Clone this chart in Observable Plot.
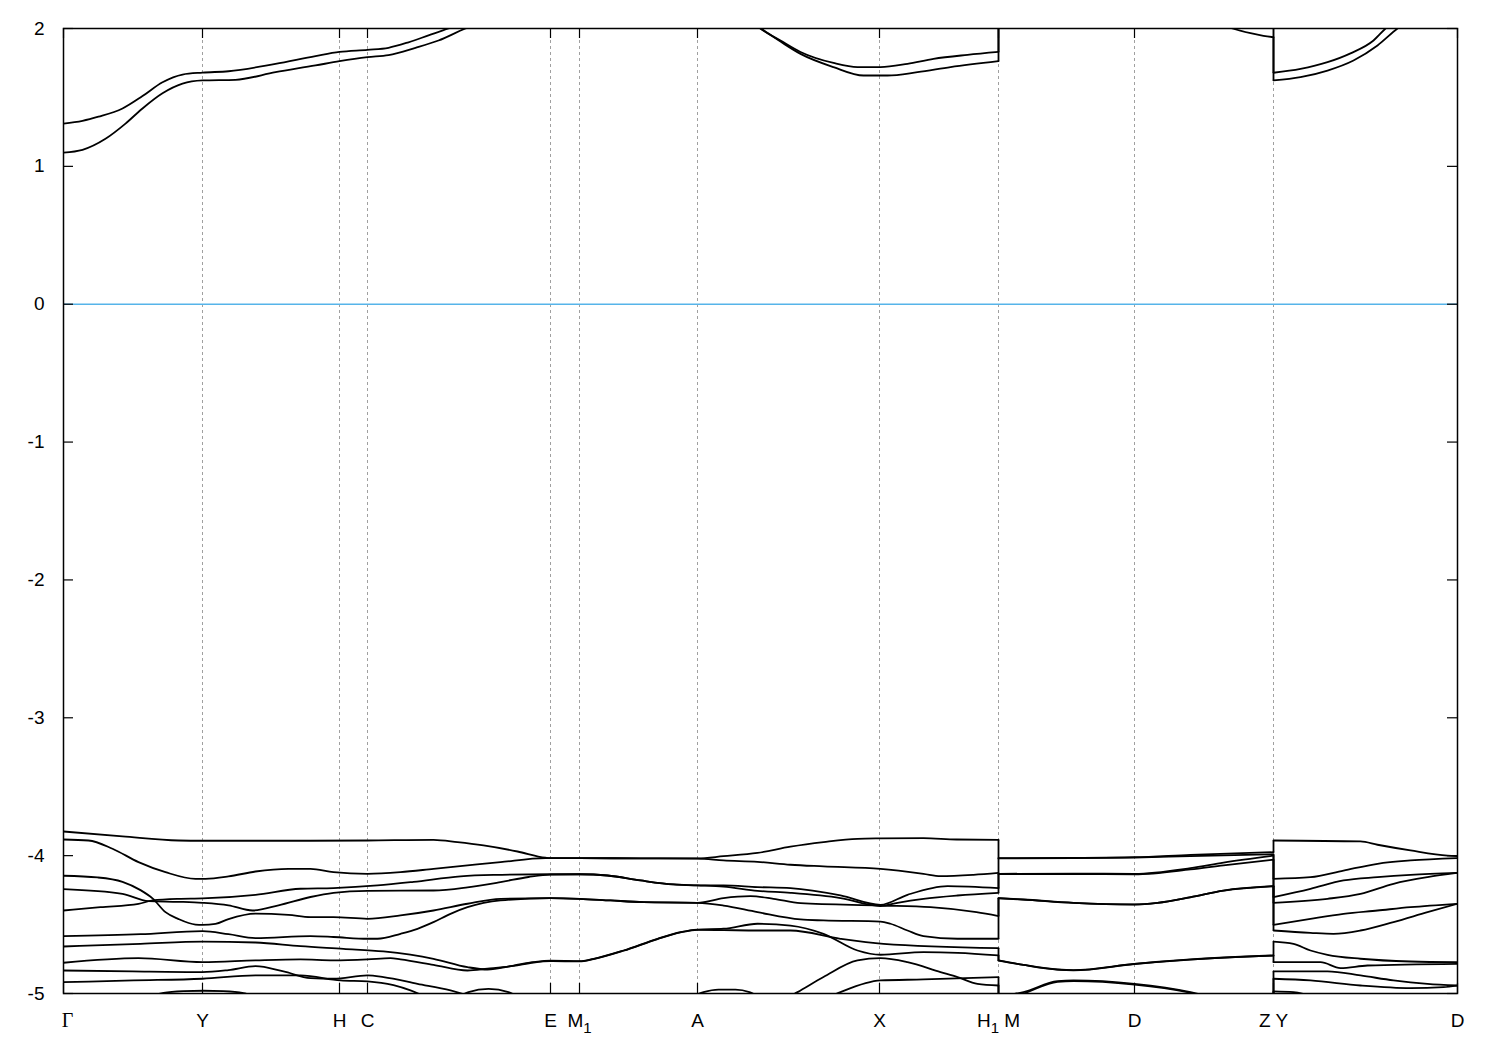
<!DOCTYPE html>
<html><head><meta charset="utf-8">
<script src="https://cdn.jsdelivr.net/npm/d3@7"></script>
<script src="https://cdn.jsdelivr.net/npm/@observablehq/plot@0.6"></script>
<style>body{margin:0;background:#fff}</style>
</head><body><div id="chart"></div>
<script>
// High-symmetry points along the k-path
const kTicks = [0, 0.139, 0.276, 0.304, 0.487, 0.516, 0.634, 0.816, 0.935, 1.071, 1.210, 1.394];
const kLabels = ["Γ", "Y", "H", "C", "E", "M_1", "A", "X", "H_1 M", "D", "Z Y", "D"];
const yTicks = [2, 1, 0, -1, -2, -3, -4, -5];
const fermiLevel = [0];

// ---- Segment A : Γ → H1 ----
const condA = [
  [[0,1.31],[0.019,1.33],[0.035,1.36],[0.059,1.42],[0.079,1.51],[0.099,1.61],[0.119,1.666],[0.139,1.68],[0.165,1.69],[0.212,1.744],[0.252,1.80],[0.276,1.83],[0.304,1.845],[0.325,1.86],[0.345,1.90],[0.365,1.95],[0.385,2.0],[0.43,2.1],[0.5,2.2],[0.634,2.3],[0.66,2.25],[0.685,2.08],[0.697,2.0],[0.717,1.913],[0.737,1.83],[0.770,1.75],[0.794,1.72],[0.817,1.72],[0.844,1.744],[0.870,1.78],[0.904,1.809],[0.935,1.83]],
  [[0,1.10],[0.019,1.12],[0.042,1.20],[0.062,1.31],[0.079,1.42],[0.099,1.53],[0.119,1.60],[0.139,1.623],[0.172,1.628],[0.212,1.683],[0.252,1.732],[0.276,1.763],[0.304,1.792],[0.325,1.807],[0.352,1.86],[0.375,1.913],[0.402,2.0],[0.45,2.1],[0.55,2.18],[0.634,2.2],[0.67,2.1],[0.697,2.0],[0.717,1.905],[0.737,1.816],[0.770,1.72],[0.800,1.659],[0.824,1.659],[0.854,1.683],[0.887,1.72],[0.935,1.763]]
];
const valA = [
  [[0,-3.825],[0.059,-3.86],[0.115,-3.89],[0.139,-3.892],[0.247,-3.892],[0.304,-3.89],[0.37,-3.885],[0.394,-3.902],[0.42,-3.926],[0.454,-3.97],[0.482,-4.015],[0.487,-4.018],[0.516,-4.018],[0.577,-4.02],[0.634,-4.02],[0.66,-4.004],[0.694,-3.98],[0.727,-3.935],[0.760,-3.902],[0.794,-3.878],[0.817,-3.875],[0.860,-3.873],[0.893,-3.883],[0.935,-3.885]],
  [[0,-3.883],[0.025,-3.89],[0.049,-3.95],[0.075,-4.047],[0.102,-4.12],[0.132,-4.168],[0.142,-4.168],[0.165,-4.151],[0.192,-4.115],[0.225,-4.096],[0.247,-4.096],[0.270,-4.12],[0.304,-4.132],[0.337,-4.12],[0.370,-4.096],[0.404,-4.071],[0.437,-4.047],[0.482,-4.018],[0.487,-4.018],[0.516,-4.018],[0.577,-4.02],[0.634,-4.022],[0.66,-4.035],[0.694,-4.045],[0.727,-4.066],[0.760,-4.078],[0.817,-4.096],[0.860,-4.132],[0.877,-4.149],[0.910,-4.139],[0.935,-4.125]],
  [[0,-4.146],[0.034,-4.158],[0.059,-4.19],[0.077,-4.25],[0.089,-4.31],[0.102,-4.41],[0.115,-4.46],[0.132,-4.50],[0.139,-4.502],[0.152,-4.495],[0.165,-4.46],[0.192,-4.42],[0.225,-4.43],[0.247,-4.446],[0.270,-4.446],[0.304,-4.458],[0.337,-4.434],[0.370,-4.398],[0.404,-4.349],[0.437,-4.313],[0.487,-4.308],[0.516,-4.313],[0.547,-4.325],[0.580,-4.337],[0.634,-4.342],[0.66,-4.308],[0.687,-4.294],[0.710,-4.313],[0.737,-4.345],[0.817,-4.362],[0.867,-4.374],[0.913,-4.41],[0.935,-4.438]],
  [[0,-4.243],[0.059,-4.277],[0.085,-4.33],[0.115,-4.335],[0.139,-4.342],[0.165,-4.36],[0.189,-4.398],[0.215,-4.36],[0.247,-4.30],[0.270,-4.27],[0.304,-4.255],[0.37,-4.253],[0.404,-4.23],[0.437,-4.192],[0.465,-4.155],[0.487,-4.137],[0.516,-4.135],[0.544,-4.144],[0.577,-4.18],[0.61,-4.209],[0.634,-4.216],[0.66,-4.216],[0.694,-4.228],[0.727,-4.236],[0.777,-4.289],[0.817,-4.357],[0.844,-4.284],[0.884,-4.221],[0.935,-4.236]],
  [[0,-4.398],[0.037,-4.374],[0.075,-4.35],[0.089,-4.325],[0.115,-4.313],[0.139,-4.31],[0.192,-4.284],[0.237,-4.24],[0.270,-4.235],[0.314,-4.216],[0.35,-4.19],[0.397,-4.15],[0.43,-4.14],[0.487,-4.135],[0.516,-4.135],[0.544,-4.144],[0.577,-4.18],[0.61,-4.209],[0.634,-4.216],[0.66,-4.225],[0.694,-4.255],[0.727,-4.270],[0.777,-4.308],[0.817,-4.366],[0.834,-4.342],[0.860,-4.313],[0.894,-4.289],[0.935,-4.270]],
  [[0,-4.584],[0.077,-4.57],[0.139,-4.548],[0.165,-4.57],[0.192,-4.598],[0.247,-4.584],[0.270,-4.59],[0.304,-4.603],[0.314,-4.603],[0.337,-4.567],[0.354,-4.531],[0.370,-4.482],[0.387,-4.422],[0.404,-4.374],[0.437,-4.325],[0.487,-4.308],[0.516,-4.313],[0.547,-4.325],[0.580,-4.337],[0.634,-4.342],[0.66,-4.362],[0.694,-4.41],[0.737,-4.463],[0.760,-4.470],[0.817,-4.478],[0.827,-4.494],[0.844,-4.543],[0.860,-4.584],[0.894,-4.603],[0.935,-4.603]],
  [[0,-4.659],[0.077,-4.64],[0.139,-4.623],[0.192,-4.63],[0.237,-4.657],[0.280,-4.676],[0.320,-4.695],[0.370,-4.748],[0.404,-4.809],[0.424,-4.826],[0.450,-4.797],[0.470,-4.773],[0.487,-4.762],[0.516,-4.765],[0.530,-4.748],[0.560,-4.688],[0.594,-4.603],[0.617,-4.555],[0.634,-4.536],[0.66,-4.53],[0.694,-4.494],[0.727,-4.507],[0.760,-4.567],[0.794,-4.688],[0.817,-4.719],[0.860,-4.70],[0.894,-4.705],[0.935,-4.724]],
  [[0,-4.777],[0.075,-4.744],[0.139,-4.773],[0.192,-4.76],[0.237,-4.753],[0.270,-4.76],[0.304,-4.753],[0.327,-4.744],[0.337,-4.753],[0.370,-4.792],[0.404,-4.833],[0.424,-4.82],[0.450,-4.80],[0.470,-4.775],[0.487,-4.765],[0.516,-4.767],[0.530,-4.75],[0.560,-4.69],[0.594,-4.605],[0.617,-4.557],[0.634,-4.538],[0.66,-4.54],[0.694,-4.543],[0.727,-4.543],[0.777,-4.603],[0.820,-4.640],[0.935,-4.671]],
  [[0.66,-5.3],[0.70,-5.12],[0.734,-4.99],[0.760,-4.88],[0.794,-4.76],[0.817,-4.744],[0.844,-4.773],[0.877,-4.845],[0.894,-4.881],[0.914,-4.93],[0.935,-4.942]],
  [[0.72,-5.2],[0.750,-5.08],[0.777,-4.99],[0.817,-4.905],[0.860,-4.898],[0.935,-4.881]],
  [[0,-4.833],[0.069,-4.84],[0.139,-4.845],[0.165,-4.83],[0.192,-4.802],[0.22,-4.84],[0.247,-4.888],[0.270,-4.893],[0.304,-4.869],[0.320,-4.881],[0.354,-4.93],[0.387,-4.978],[0.42,-5.05],[0.47,-5.15]],
  [[0,-4.918],[0.07,-4.905],[0.139,-4.893],[0.192,-4.869],[0.237,-4.869],[0.277,-4.905],[0.304,-4.912],[0.330,-4.94],[0.347,-4.978],[0.37,-5.05],[0.40,-5.15]],
  [[0.07,-5.1],[0.10,-4.995],[0.12,-4.983],[0.14,-4.98],[0.16,-4.983],[0.18,-4.997],[0.21,-5.1]],
  [[0.38,-5.1],[0.405,-4.99],[0.425,-4.966],[0.445,-4.99],[0.47,-5.1]],
  [[0.61,-5.1],[0.64,-4.99],[0.655,-4.972],[0.672,-4.972],[0.686,-4.99],[0.71,-5.1]]
];

// ---- Segment B : M → D → Z ----
const condB = [
  [[0.935,2.4],[1.071,2.5],[1.210,2.4]],
  [[0.935,2.3],[1.071,2.35],[1.137,2.1],[1.169,2.0],[1.187,1.966],[1.200,1.947],[1.210,1.937]]
];
const valB = [
  [[0.935,-4.018],[1.010,-4.016],[1.071,-4.011],[1.127,-3.994],[1.210,-3.975]],
  [[0.935,-4.02],[1.010,-4.018],[1.071,-4.014],[1.127,-4.003],[1.210,-3.99]],
  [[0.935,-4.132],[1.010,-4.13],[1.071,-4.132],[1.127,-4.09],[1.160,-4.05],[1.210,-4.0]],
  [[0.935,-4.134],[1.010,-4.133],[1.071,-4.136],[1.127,-4.10],[1.160,-4.07],[1.210,-4.03]],
  [[0.935,-4.308],[0.960,-4.318],[1.010,-4.342],[1.071,-4.354],[1.094,-4.342],[1.127,-4.301],[1.160,-4.253],[1.210,-4.221]],
  [[0.935,-4.309],[0.960,-4.319],[1.010,-4.343],[1.071,-4.355],[1.094,-4.343],[1.127,-4.302],[1.160,-4.254],[1.210,-4.222]],
  [[0.935,-4.76],[0.960,-4.792],[0.994,-4.826],[1.010,-4.831],[1.071,-4.785],[1.127,-4.753],[1.210,-4.724]],
  [[0.935,-4.761],[0.960,-4.793],[0.994,-4.827],[1.010,-4.832],[1.071,-4.786],[1.127,-4.754],[1.210,-4.725]],
  [[0.935,-5.02],[0.960,-4.99],[0.994,-4.910],[1.010,-4.905],[1.071,-4.93],[1.127,-4.99],[1.16,-5.05],[1.210,-5.1]],
  [[0.935,-5.05],[0.960,-5.0],[0.994,-4.915],[1.010,-4.91],[1.071,-4.935],[1.127,-4.995],[1.16,-5.06],[1.210,-5.12]],
  [[0.935,-5.3],[1.071,-5.3],[1.210,-5.3]]
];

// ---- Segment C : Y → D ----
const condC = [
  [[1.210,1.679],[1.237,1.707],[1.264,1.756],[1.287,1.82],[1.310,1.913],[1.322,2.0],[1.394,2.3]],
  [[1.210,1.623],[1.237,1.647],[1.264,1.695],[1.290,1.768],[1.314,1.877],[1.334,2.0],[1.394,2.2]]
];
const valC = [
  [[1.210,-3.89],[1.297,-3.897],[1.314,-3.921],[1.347,-3.962],[1.384,-4.0],[1.394,-4.004]],
  [[1.210,-4.168],[1.247,-4.156],[1.280,-4.108],[1.314,-4.059],[1.347,-4.035],[1.394,-4.018]],
  [[1.210,-4.301],[1.247,-4.241],[1.280,-4.180],[1.314,-4.156],[1.347,-4.139],[1.394,-4.125]],
  [[1.210,-4.342],[1.264,-4.313],[1.297,-4.277],[1.330,-4.204],[1.364,-4.156],[1.394,-4.125]],
  [[1.210,-4.502],[1.247,-4.458],[1.280,-4.422],[1.314,-4.398],[1.347,-4.374],[1.394,-4.349]],
  [[1.210,-4.543],[1.247,-4.560],[1.270,-4.567],[1.297,-4.543],[1.330,-4.482],[1.364,-4.410],[1.394,-4.349]],
  [[1.210,-4.623],[1.230,-4.640],[1.247,-4.688],[1.264,-4.719],[1.297,-4.748],[1.347,-4.768],[1.394,-4.773]],
  [[1.210,-4.773],[1.257,-4.773],[1.277,-4.816],[1.304,-4.797],[1.394,-4.785]],
  [[1.210,-4.840],[1.264,-4.840],[1.297,-4.869],[1.330,-4.905],[1.364,-4.930],[1.394,-4.942]],
  [[1.210,-4.893],[1.247,-4.905],[1.297,-4.942],[1.347,-4.961],[1.380,-4.954],[1.394,-4.942]],
  [[1.210,-4.985],[1.23,-4.99],[1.26,-5.05],[1.30,-5.15],[1.394,-5.3]]
];

const segments = [condA.concat(valA), condB.concat(valB), condC.concat(valC)];
const junctions = [kTicks[8], kTicks[10]];

// flatten curves into rows
const rows = [];
segments.forEach((curves, s) => curves.forEach((c, i) => c.forEach(([k, e]) => rows.push({id: s + "-" + i, k, e}))));

// vertical joins at path discontinuities: pair band ends and starts in energy order
const near = (a, b) => Math.abs(a - b) < 1e-6;
const links = [];
junctions.forEach((kj, j) => {
  const ends = segments[j].filter(c => near(c[c.length - 1][0], kj)).map(c => c[c.length - 1][1]).sort((a, b) => b - a);
  const starts = segments[j + 1].filter(c => near(c[0][0], kj)).map(c => c[0][1]).sort((a, b) => b - a);
  for (let i = 0; i < Math.min(ends.length, starts.length); i++) links.push({k: kj, a: ends[i], b: starts[i]});
});

const labelData = kTicks.map((k, i) => ({k, label: kLabels[i]}));
const W = 1500, H = 1050, mL = 63, mR = 43, mT = 28, mB = 57;
const pw = W - mL - mR, ph = H - mT - mB, tl = 10;

const chart = Plot.plot({
  width: W, height: H,
  marginLeft: mL, marginRight: mR, marginTop: mT, marginBottom: mB,
  style: {fontFamily: "'Liberation Sans', Arial, sans-serif", fontSize: "19px", background: "white", color: "black"},
  x: {domain: [kTicks[0], kTicks[kTicks.length - 1]], axis: null},
  y: {domain: [-5, 2], axis: null},
  marks: [
    Plot.ruleX(kTicks.slice(1, -1), {stroke: "#a0a0a0", strokeWidth: 1, strokeDasharray: "3,3"}),
    Plot.ruleY(fermiLevel, {stroke: "#56b4e9", strokeWidth: 1.4}),
    Plot.line(rows, {x: "k", y: "e", z: "id", curve: "monotone-x", stroke: "black", strokeWidth: 1.8, clip: true}),
    Plot.link(links, {x1: "k", x2: "k", y1: "a", y2: "b", stroke: "black", strokeWidth: 1.8, clip: true}),
    Plot.tickY(yTicks, {y: d => d, insetRight: pw - tl, stroke: "black", strokeWidth: 1.2}),
    Plot.tickY(yTicks, {y: d => d, insetLeft: pw - tl, stroke: "black", strokeWidth: 1.2}),
    Plot.tickX(kTicks, {x: d => d, insetBottom: ph - tl, stroke: "black", strokeWidth: 1.2}),
    Plot.tickX(kTicks, {x: d => d, insetTop: ph - tl, stroke: "black", strokeWidth: 1.2}),
    Plot.frame({stroke: "black", strokeWidth: 1.5}),
    Plot.text(yTicks, {y: d => d, text: d => String(d), frameAnchor: "left", textAnchor: "end", dx: -19, fontSize: 19, lineAnchor: "middle"}),
    Plot.text(labelData.filter(d => d.label !== "Γ"), {x: "k", text: "label", frameAnchor: "bottom", dy: 27, fontSize: 19, lineAnchor: "middle"}),
    Plot.text(labelData.filter(d => d.label === "Γ"), {x: "k", text: "label", frameAnchor: "bottom", dy: 27, dx: 4, fontSize: 20, lineAnchor: "middle", fontFamily: "'Liberation Serif', 'Times New Roman', serif"})
  ]
});

// render "_1" as a lowered subscript
d3.select(chart).selectAll("text").each(function () {
  const t = this.textContent;
  if (!t.includes("_")) return;
  const m = t.match(/^(.*?)_(\d)(.*)$/);
  const el = d3.select(this);
  el.text(null);
  el.append("tspan").text(m[1]);
  el.append("tspan").attr("dy", 6).attr("font-size", 15).text(m[2]);
  if (m[3]) el.append("tspan").attr("dy", -6).text(m[3]);
});

document.getElementById("chart").appendChild(chart);
</script>
</body></html>
